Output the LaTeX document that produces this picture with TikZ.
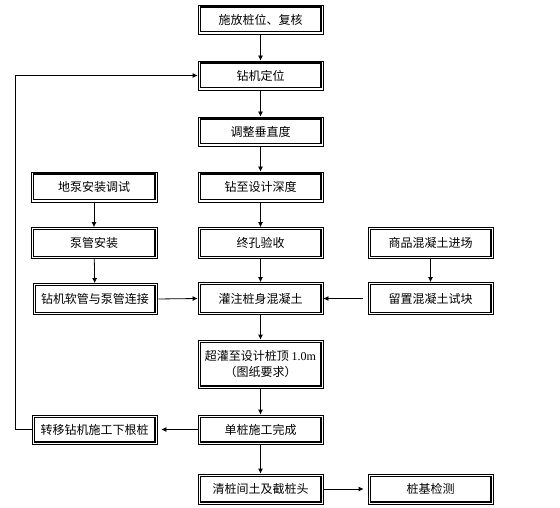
\documentclass[tikz,border=0pt]{standalone}
\usepackage{fontspec}
\newfontfamily\cjk{Noto Sans CJK SC}
\newfontfamily\latinserif{Liberation Serif}
\usetikzlibrary{arrows.meta}
\begin{document}
\begin{tikzpicture}[x=1pt,y=-1pt,
  box/.style={draw,line width=0.8pt,minimum width=125pt,minimum height=30pt,inner sep=0pt,
    font=\cjk\fontsize{12}{16}\selectfont,align=center},
  arr/.style={-{Latex[length=5pt,width=5pt]},line width=0.8pt},
  ln/.style={line width=0.9pt}]
\useasboundingbox[fill=white] (0,0) rectangle (560,508);
% centre column
\node[box,minimum height=29pt] (a1) at (260.5,19.5) {施放桩位、复核};
\node[box,minimum height=29pt] (a2) at (260.5,75.5) {钻机定位};
\node[box,minimum height=29pt] (a3) at (260.5,131.5) {调整垂直度};
\node[box] (a4) at (260.5,187) {钻至设计深度};
\node[box,minimum height=31pt] (a5) at (260.5,243) {终孔验收};
\node[box,minimum height=32pt] (a6) at (260.5,298.5) {灌注桩身混凝土};
\node[box,minimum height=48pt] (a7) at (260.5,364) {超灌至设计桩顶 {\latinserif 1.0m}\\（图纸要求）};
\node[box,minimum height=29pt] (a8) at (260.5,429.5) {单桩施工完成};
\node[box] (a9) at (260.5,489) {清桩间土及截桩头};
% left column
\node[box,minimum width=126pt] (b1) at (94,187) {地泵安装调试};
\node[box,minimum width=126pt,minimum height=31pt] (b2) at (94,243) {泵管安装};
\node[box,minimum width=124pt,minimum height=31pt] (b3) at (95,299) {钻机软管与泵管连接};
\node[box,minimum width=125pt,minimum height=29pt] (b4) at (94.5,429.5) {转移钻机施工下根桩};
% right column
\node[box,minimum height=31pt] (c1) at (430.5,243) {商品混凝土进场};
\node[box,minimum height=32pt] (c2) at (430.5,298.5) {留置混凝土试块};
\node[box] (c3) at (430.5,489) {桩基检测};
% inner (thick) frames
\foreach \n in {a1,a2,a3,a4,a5,a6,a7,a8,a9,b1,b2,b3,b4,c1,c2,c3}
  \draw[line width=1.4pt] ([shift={(2.6,2.6)}]\n.north west) rectangle ([shift={(-2.6,-2.6)}]\n.south east);
% vertical arrows
\draw[arr] (a1) -- (a2);
\draw[arr] (a2) -- (a3);
\draw[arr] (a3) -- (a4);
\draw[arr] (a4) -- (a5);
\draw[arr] (a5) -- (a6);
\draw[arr] (a6) -- (a7);
\draw[arr] (a7) -- (a8);
\draw[arr] (a8) -- (a9);
\draw[arr] (b1) -- (b2);
\draw[arr] (b2) -- (b3);
\draw[arr] (c1) -- (c2);
% horizontal arrows
\draw[arr,shorten <=1pt] (b3.east) -- (a6.west);
\draw[arr,shorten <=5pt] (c2.west) -- (a6.east);
\draw[arr,shorten >=4pt] (a8.west) -- (b4.east);
\draw[arr,shorten >=4pt] (a9.east) -- (c3.west);
% loop back
\coordinate (lt) at (15,75.5);
\coordinate (lb) at (15,429.5);
\draw[ln] (b4.west) -- (lb) -- (lt);
\draw[arr] (lt) -- (a2.west);
\end{tikzpicture}
\end{document}
